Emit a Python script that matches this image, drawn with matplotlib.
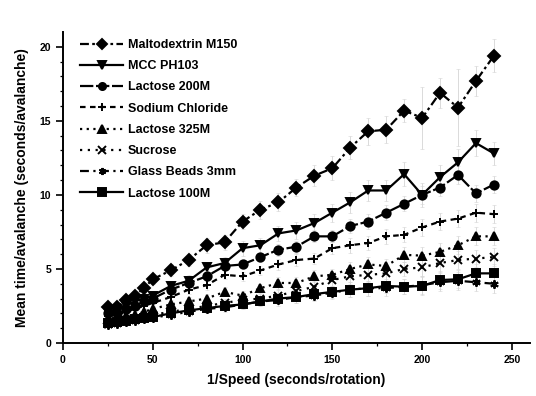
import numpy as np
import matplotlib
matplotlib.use("Agg")
from matplotlib import pyplot as plt

plt.rcParams['font.family'] = ['Liberation Sans', 'DejaVu Sans']

# 1/speed values (seconds/rotation)
speed = [25, 30, 35, 40, 45, 50, 60, 70, 80, 90, 100, 110, 120, 130, 140,
         150, 160, 170, 180, 190, 200, 210, 220, 230, 240]

maltodextrin = [2.4, 2.4, 2.9, 3.2, 3.7, 4.3, 4.9, 5.6, 6.6, 6.8, 8.2, 9.0, 9.5,
                10.5, 11.3, 11.8, 13.2, 14.3, 14.4, 15.7, 15.2, 16.9, 15.9, 17.7, 19.4]
mcc = [2.1, 2.2, 2.5, 2.8, 3.0, 3.2, 3.85, 4.2, 5.1, 5.4, 6.4, 6.6, 7.4,
       7.6, 8.1, 8.8, 9.5, 10.3, 10.3, 11.4, 10.0, 11.2, 12.2, 13.5, 12.8]
lactose200 = [2.0, 2.0, 2.3, 2.5, 2.8, 3.0, 3.6, 4.05, 4.5, 5.2, 5.3, 5.8, 6.3,
              6.5, 7.2, 7.2, 7.9, 8.2, 8.8, 9.4, 10.0, 10.5, 11.35, 10.1, 10.7]
nacl = [1.8, 1.9, 2.1, 2.3, 2.5, 2.7, 3.1, 3.6, 3.9, 4.6, 4.5, 4.9, 5.3,
        5.6, 5.7, 6.4, 6.6, 6.75, 7.2, 7.3, 7.8, 8.2, 8.4, 8.8, 8.7]
lactose325 = [1.6, 1.7, 1.8, 1.9, 2.1, 2.3, 2.6, 2.8, 3.0, 3.45, 3.2, 3.7, 4.05,
              4.05, 4.5, 4.6, 5.0, 5.3, 5.2, 5.95, 5.9, 6.15, 6.6, 7.2, 7.2]
sucrose = [1.3, 1.4, 1.5, 1.6, 1.7, 1.9, 2.1, 2.3, 2.5, 2.7, 2.9, 3.0, 3.2,
           3.5, 3.8, 4.25, 4.5, 4.6, 4.7, 5.0, 5.1, 5.4, 5.6, 5.7, 5.8]
glass = [1.2, 1.3, 1.4, 1.5, 1.6, 1.7, 1.9, 2.1, 2.3, 2.4, 2.6, 2.8, 2.9,
         3.1, 3.2, 3.4, 3.6, 3.7, 3.7, 3.8, 3.9, 4.1, 4.2, 4.1, 4.0]
lactose100 = [1.35, 1.4, 1.5, 1.6, 1.7, 1.75, 2.0, 2.2, 2.35, 2.5, 2.6, 2.8, 3.0,
              3.1, 3.3, 3.45, 3.6, 3.7, 3.85, 3.8, 3.85, 4.25, 4.3, 4.7, 4.7]

# error bars (std dev)
err_malto = [0.2, 0.2, 0.2, 0.3, 0.3, 0.3, 0.4, 0.4, 0.5, 0.5, 0.5, 0.6, 0.6,
             0.6, 0.7, 0.8, 0.8, 0.9, 0.9, 0.8, 2.1, 1.0, 2.6, 1.0, 1.1]
err_mcc = [0.2, 0.2, 0.2, 0.2, 0.3, 0.3, 0.3, 0.4, 0.4, 0.4, 0.5, 0.5, 0.5,
           0.6, 0.6, 0.6, 0.7, 0.7, 0.7, 0.8, 0.8, 0.8, 0.9, 0.9, 0.8]
err_small = [0.1, 0.1, 0.1, 0.2, 0.2, 0.2, 0.2, 0.3, 0.3, 0.3, 0.3, 0.3, 0.4,
             0.4, 0.4, 0.4, 0.5, 0.5, 0.5, 0.5, 0.6, 0.6, 0.6, 0.6, 0.6]

series = [
    ("Maltodextrin M150", maltodextrin, err_malto, 'D', (0, (4, 1.5, 1.2, 1.5))),
    ("MCC PH103", mcc, err_mcc, 'v', '-'),
    ("Lactose 200M", lactose200, err_small, 'o', (0, (6, 1.2))),
    ("Sodium Chloride", nacl, err_small, '+', (0, (2.5, 2))),
    ("Lactose 325M", lactose325, err_small, '^', (0, (1, 2))),
    ("Sucrose", sucrose, err_small, 'x', (0, (1, 2.5))),
    ("Glass Beads 3mm", glass, err_small, (6, 2, 0), (0, (4, 2, 1, 2))),
    ("Lactose 100M", lactose100, err_small, 's', '-'),
]

fig = plt.figure(figsize=(5.36, 3.96), dpi=100)
ax = fig.add_axes([0.1175, 0.134, 0.871, 0.785])

for name, vals, err, mk, ls in series:
    ax.errorbar(speed, vals, yerr=err, fmt='none', ecolor='#d4d4d4',
                elinewidth=0.6, capsize=1.2, capthick=0.4, zorder=1)
    ax.plot(speed, vals, color='black', linestyle=ls, linewidth=1.6,
            marker=mk, markersize=6, markeredgewidth=1.4, label=name, zorder=2)

ax.set_xlim(0, 260)
ax.set_ylim(0, 21)
ax.set_xticks([0, 50, 100, 150, 200, 250])
ax.set_xticks([25, 75, 125, 175, 225], minor=True)
ax.set_yticks([0, 5, 10, 15, 20])
ax.set_yticks(np.arange(0, 21, 1), minor=True)
ax.spines['top'].set_visible(False)
ax.spines['right'].set_visible(False)
ax.spines['left'].set_linewidth(1.4)
ax.spines['bottom'].set_linewidth(1.4)
ax.tick_params(which='major', direction='out', length=5, width=1.2,
               labelsize=7.5)
ax.tick_params(which='minor', direction='out', length=2.5, width=0.9)
for lab in ax.get_xticklabels() + ax.get_yticklabels():
    lab.set_fontweight('bold')

ax.set_xlabel("1/Speed (seconds/rotation)", fontsize=10, fontweight='bold',
              labelpad=6)
ax.set_ylabel("Mean time/avalanche (seconds/avalanche)", fontsize=10,
              fontweight='bold', labelpad=8)

leg = ax.legend(loc='upper left', bbox_to_anchor=(0.024, 0.998), frameon=False,
                fontsize=9, handlelength=3.4, handletextpad=0.4,
                labelspacing=0.74, borderpad=0, markerscale=0.85)
for t in leg.get_texts():
    t.set_fontweight('bold')

fig.savefig("out.png", dpi=100)
